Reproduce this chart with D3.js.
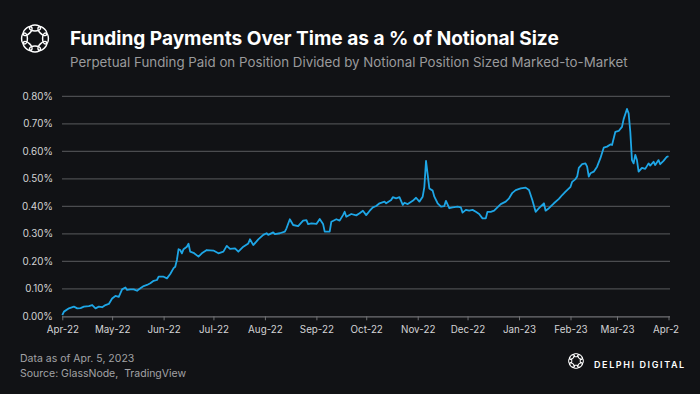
<!DOCTYPE html>
<html lang="en">
<head>
<meta charset="utf-8">
<title>Funding Payments Over Time</title>
<script src="https://cdn.jsdelivr.net/npm/d3@7"></script>
<style>
  html, body { margin: 0; padding: 0; background: #111215; }
  svg { display: block; font-family: Inter, "Open Sans", sans-serif; }
</style>
</head>
<body>
<script>
// funding paid / notional, in percent
var dates = [
  '2022-04-01','2022-04-02','2022-04-05','2022-04-08','2022-04-10','2022-04-12','2022-04-14','2022-04-17','2022-04-19','2022-04-21',
  '2022-04-23','2022-04-25','2022-04-27','2022-04-29','2022-05-01','2022-05-03','2022-05-05','2022-05-07','2022-05-09','2022-05-10',
  '2022-05-12','2022-05-14','2022-05-16','2022-05-18','2022-05-20','2022-05-22','2022-05-24','2022-05-26','2022-05-28','2022-05-29',
  '2022-06-01','2022-06-03','2022-06-05','2022-06-07','2022-06-08','2022-06-09','2022-06-10','2022-06-11','2022-06-12','2022-06-13',
  '2022-06-15','2022-06-16','2022-06-17','2022-06-19','2022-06-22','2022-06-24','2022-06-27','2022-07-01','2022-07-04','2022-07-07',
  '2022-07-09','2022-07-11','2022-07-14','2022-07-16','2022-07-19','2022-07-22','2022-07-23','2022-07-25','2022-07-28','2022-07-31',
  '2022-08-02','2022-08-03','2022-08-06','2022-08-07','2022-08-10','2022-08-13','2022-08-14','2022-08-16','2022-08-18','2022-08-21',
  '2022-08-24','2022-08-26','2022-08-27','2022-08-29','2022-09-01','2022-09-03','2022-09-05','2022-09-06','2022-09-09','2022-09-10',
  '2022-09-13','2022-09-15','2022-09-17','2022-09-18','2022-09-19','2022-09-22','2022-09-25','2022-09-27','2022-09-29','2022-10-01',
  '2022-10-03','2022-10-05','2022-10-07','2022-10-09','2022-10-12','2022-10-13','2022-10-16','2022-10-17','2022-10-19','2022-10-21',
  '2022-10-23','2022-10-24','2022-10-26','2022-10-29','2022-10-31','2022-11-02','2022-11-04','2022-11-05','2022-11-06','2022-11-08',
  '2022-11-10','2022-11-11','2022-11-13','2022-11-15','2022-11-17','2022-11-18','2022-11-20','2022-11-22','2022-11-25','2022-11-27',
  '2022-11-28','2022-11-30','2022-12-02','2022-12-04','2022-12-06','2022-12-08','2022-12-10','2022-12-12','2022-12-13','2022-12-15',
  '2022-12-17','2022-12-19','2022-12-21','2022-12-24','2022-12-26','2022-12-28','2022-12-30','2023-01-02','2023-01-05','2023-01-07',
  '2023-01-09','2023-01-11','2023-01-13','2023-01-16','2023-01-17','2023-01-19','2023-01-22','2023-01-25','2023-01-27','2023-01-29',
  '2023-02-01','2023-02-02','2023-02-04','2023-02-05','2023-02-06','2023-02-08','2023-02-10','2023-02-11','2023-02-12','2023-02-13',
  '2023-02-15','2023-02-17','2023-02-19','2023-02-21','2023-02-23','2023-02-25','2023-02-26','2023-02-28','2023-03-02','2023-03-04',
  '2023-03-05','2023-03-07','2023-03-08','2023-03-09','2023-03-10','2023-03-11','2023-03-12','2023-03-13','2023-03-14','2023-03-16',
  '2023-03-18','2023-03-20','2023-03-21','2023-03-23','2023-03-24','2023-03-26','2023-03-27','2023-03-29','2023-03-31','2023-04-01'
];
var fundingPct = [
  0.004,0.017,0.029,0.035,0.029,0.030,0.035,0.037,0.041,0.029,
  0.035,0.033,0.041,0.045,0.065,0.074,0.071,0.098,0.105,0.096,
  0.098,0.098,0.093,0.102,0.110,0.114,0.120,0.129,0.132,0.144,
  0.144,0.138,0.154,0.175,0.180,0.205,0.244,0.241,0.229,0.244,
  0.253,0.264,0.235,0.231,0.217,0.229,0.241,0.239,0.229,0.235,
  0.256,0.245,0.247,0.235,0.253,0.265,0.280,0.259,0.280,0.296,
  0.302,0.296,0.305,0.299,0.302,0.308,0.320,0.353,0.332,0.328,
  0.348,0.350,0.335,0.338,0.336,0.354,0.336,0.308,0.308,0.344,
  0.353,0.348,0.368,0.380,0.362,0.372,0.367,0.375,0.384,0.368,
  0.383,0.396,0.401,0.411,0.417,0.411,0.423,0.433,0.429,0.433,
  0.405,0.413,0.408,0.420,0.431,0.417,0.435,0.471,0.565,0.465,
  0.457,0.435,0.411,0.399,0.401,0.420,0.393,0.396,0.399,0.396,
  0.377,0.387,0.384,0.387,0.380,0.372,0.356,0.356,0.380,0.380,
  0.384,0.396,0.408,0.417,0.429,0.449,0.459,0.465,0.468,0.459,
  0.423,0.380,0.393,0.411,0.384,0.393,0.411,0.427,0.441,0.453,
  0.471,0.489,0.499,0.508,0.540,0.553,0.556,0.544,0.508,0.520,
  0.526,0.544,0.575,0.613,0.617,0.625,0.623,0.671,0.674,0.689,
  0.717,0.754,0.738,0.671,0.568,0.556,0.587,0.568,0.526,0.540,
  0.536,0.556,0.548,0.562,0.550,0.568,0.553,0.565,0.580,0.582
];
var yTicks = [0, 0.1, 0.2, 0.3, 0.4, 0.5, 0.6, 0.7, 0.8];
var xStart = '2022-04-01', xEnd = '2023-04-01';

var title = 'Funding Payments Over Time as a % of Notional Size';
var subtitle = 'Perpetual Funding Paid on Position Divided by Notional Position Sized Marked-to-Market';
var notes = ['Data as of Apr. 5, 2023', 'Source: GlassNode,  TradingView'];

var W = 700, H = 394;
var parse = d3.timeParse('%Y-%m-%d');
var data = dates.map(function (d, i) { return { date: parse(d), v: fundingPct[i] }; });

var svg = d3.select('body').append('svg').attr('width', W).attr('height', H);
svg.append('rect').attr('width', W).attr('height', H).attr('fill', '#111215');

// ring logo made of interlocking loops
function logo(g, cx, cy, s, sw) {
    var n = 8;
    for (var i = 0; i < n; i++) {
        var a = i * 360 / n;
        g.append('ellipse')
            .attr('cx', 0).attr('cy', -10.5 * s)
            .attr('rx', 5.6 * s).attr('ry', 2.9 * s)
            .attr('transform', 'translate(' + cx + ',' + cy + ') rotate(' + a + ')')
            .attr('fill', 'none').attr('stroke', '#fff').attr('stroke-width', sw);
    }
}
logo(svg.append('g'), 35, 38.5, 1, 1.5);

function fit(sel, w) {
    var fs = +sel.attr('font-size');
    var l = sel.node().getComputedTextLength();
    sel.attr('font-size', fs * w / l);
}
var t = svg.append('text').attr('x', 70).attr('y', 45).attr('fill', '#fff')
    .attr('font-size', 18).attr('font-weight', 700).text(title);
fit(t, 489);
var st = svg.append('text').attr('x', 70).attr('y', 67).attr('fill', '#9a9a9c')
    .attr('font-size', 13).text(subtitle);
fit(st, 558);

var x = d3.scaleTime().domain([parse(xStart), parse(xEnd)]).range([62.3, 668.5]);
var y = d3.scaleLinear().domain([0, 0.8]).range([316.3, 96.3]);

// gridlines
svg.append('g').selectAll('line').data(yTicks.slice(1)).enter().append('line')
    .attr('x1', 62).attr('x2', 670)
    .attr('y1', function (d) { return y(d); }).attr('y2', function (d) { return y(d); })
    .attr('stroke', '#4b4c4f').attr('stroke-width', 1.3);

// y labels
var yAxis = svg.append('g').attr('transform', 'translate(62,0)')
    .call(d3.axisLeft(y).tickValues(yTicks).tickSize(0).tickPadding(9)
        .tickFormat(function (d) { return d3.format('.2f')(d) + '%'; }));
yAxis.select('.domain').remove();
yAxis.selectAll('text').attr('fill', '#d4d4d6').attr('font-size', 9.8)
    .attr('font-family', 'Inter, sans-serif');

// x axis, last label cut at the frame edge like the original
svg.append('defs').append('clipPath').attr('id', 'xclip')
    .append('rect').attr('x', 0).attr('y', -10).attr('width', 679).attr('height', 40);
var xAxis = svg.append('g').attr('transform', 'translate(0,316.3)').attr('clip-path', 'url(#xclip)')
    .call(d3.axisBottom(x).ticks(d3.timeMonth.every(1)).tickSize(4).tickSizeOuter(0).tickPadding(6)
        .tickFormat(d3.timeFormat('%b-%y')));
xAxis.select('.domain').attr('stroke', '#707174').attr('stroke-width', 1.3)
    .attr('d', 'M62,0.5H670');
xAxis.selectAll('.tick line').attr('stroke', '#707174');
xAxis.selectAll('text').attr('fill', '#d4d4d6').attr('font-size', 9.8)
    .attr('font-family', 'Inter, sans-serif');

// series
var line = d3.line().x(function (d) { return x(d.date); }).y(function (d) { return y(d.v); });
svg.append('path').datum(data).attr('d', line)
    .attr('fill', 'none').attr('stroke', '#1ea6e6').attr('stroke-width', 1.8)
    .attr('stroke-linejoin', 'round');

// footer
svg.selectAll('.note').data(notes).enter().append('text')
    .attr('x', 20).attr('y', function (d, i) { return 362 + i * 15; })
    .style('white-space', 'pre')
    .attr('fill', '#a2a2a5').attr('font-size', 10.5).text(function (d) { return d; });

logo(svg.append('g'), 576, 361, 0.55, 1);
svg.append('text').attr('x', 594).attr('y', 368).attr('fill', '#fff')
    .attr('font-size', 9).attr('font-weight', 600).attr('letter-spacing', 1.6)
    .text('DELPHI DIGITAL');
</script>
</body>
</html>
